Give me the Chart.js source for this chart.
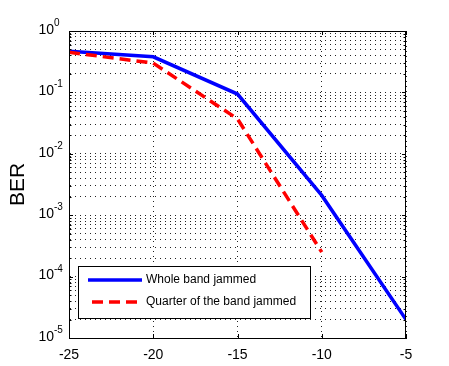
<!DOCTYPE html>
<html lang="en">
<head>
  <meta charset="UTF-8">
  <title>BER vs jamming</title>
  <script src="https://cdn.jsdelivr.net/npm/chart.js"></script>
  <style>
    html, body { margin: 0; padding: 0; background: #fff; }
    .chart-container { width: 449px; height: 366px; }
  </style>
</head>
<body>
  <div class="chart-container">
    <canvas id="berChart"></canvas>
  </div>
  <script>
    // data
    const snr = [-25, -20, -15, -10, -5];
    const wholeBand = [0.47, 0.38, 0.094, 0.0021, 0.00002];
    const quarterBand = [0.45, 0.30, 0.037, 0.00025, null];
    const seriesNames = ["Whole band jammed", "Quarter of the band jammed"];
    const xTicks = [-25, -20, -15, -10, -5];
    const yExponents = [0, -1, -2, -3, -4, -5];

    const FONT = "'Liberation Sans', Arial, sans-serif";

    // grid values 1..9 x 10^n for every decade
    const yGrid = [];
    for (let e = -5; e < 0; e++) {
      for (let s = 1; s <= 9; s++) yGrid.push(s * Math.pow(10, e));
    }
    yGrid.push(1);

    // box, inside tick marks, y labels with superscripts, legend
    const decorPlugin = {
      id: "decor",
      afterDraw(chart) {
        const ctx = chart.ctx;
        const a = chart.chartArea;
        const xs = chart.scales.x;
        const ys = chart.scales.y;
        ctx.save();
        ctx.strokeStyle = "#000";
        ctx.lineWidth = 1;
        ctx.strokeRect(a.left + 0.5, a.top + 0.5, a.right - a.left - 1, a.bottom - a.top);

        // inside ticks
        ctx.beginPath();
        xTicks.forEach(v => {
          const px = Math.round(xs.getPixelForValue(v)) + 0.5;
          ctx.moveTo(px, a.bottom); ctx.lineTo(px, a.bottom - 4);
          ctx.moveTo(px, a.top); ctx.lineTo(px, a.top + 4);
        });
        yGrid.forEach(v => {
          const py = Math.round(ys.getPixelForValue(v)) + 0.5;
          const major = Math.abs(Math.log10(v) - Math.round(Math.log10(v))) < 1e-9;
          const len = major ? 4 : 2.5;
          ctx.moveTo(a.left, py); ctx.lineTo(a.left + len, py);
          ctx.moveTo(a.right, py); ctx.lineTo(a.right - len, py);
        });
        ctx.stroke();

        // y tick labels 10^n
        ctx.fillStyle = "#000";
        yExponents.forEach(e => {
          const py = ys.getPixelForValue(Math.pow(10, e));
          ctx.font = "14px " + FONT;
          ctx.textAlign = "right";
          ctx.textBaseline = "middle";
          ctx.fillText("10", 54, py - 1);
          ctx.font = "10px " + FONT;
          ctx.textAlign = "left";
          ctx.textBaseline = "alphabetic";
          ctx.fillText(String(e), 54, py - 5);
        });

        // legend box
        const bx = a.left + 9, by = a.bottom - 72, bw = 232, bh = 52;
        ctx.fillStyle = "#fff";
        ctx.fillRect(bx, by, bw, bh);
        ctx.strokeStyle = "#000";
        ctx.lineWidth = 1;
        ctx.strokeRect(bx + 0.5, by + 0.5, bw, bh);
        chart.data.datasets.forEach((ds, i) => {
          const ly = by + 14 + i * 22;
          ctx.beginPath();
          ctx.strokeStyle = ds.borderColor;
          ctx.lineWidth = ds.borderWidth;
          ctx.setLineDash(ds.borderDash || []);
          ctx.moveTo(bx + (ds.borderDash ? 14 : 10), ly);
          ctx.lineTo(bx + 64, ly);
          ctx.stroke();
          ctx.setLineDash([]);
          ctx.fillStyle = "#000";
          ctx.font = "12px " + FONT;
          ctx.textAlign = "left";
          ctx.textBaseline = "middle";
          ctx.fillText(ds.label, bx + 68, ly);
        });
        ctx.restore();
      }
    };

    const ctx = document.getElementById("berChart").getContext("2d");
    new Chart(ctx, {
      type: "line",
      data: {
        labels: snr,
        datasets: [
          {
            label: seriesNames[0],
            data: snr.map((x, i) => ({ x: x, y: wholeBand[i] })),
            borderColor: "#0000ff",
            borderWidth: 3.5,
            pointRadius: 0,
            fill: false,
            tension: 0,
            order: 2
          },
          {
            label: seriesNames[1],
            data: snr.map((x, i) => ({ x: x, y: quarterBand[i] })),
            borderColor: "#ff0000",
            borderWidth: 3.5,
            borderDash: [11, 6],
            pointRadius: 0,
            fill: false,
            tension: 0,
            spanGaps: false,
            order: 1
          }
        ]
      },
      options: {
        responsive: true,
        maintainAspectRatio: false,
        animation: false,
        events: [],
        layout: { padding: { left: 0, top: 31, right: 43, bottom: 0 } },
        plugins: {
          legend: { display: false },
          tooltip: { enabled: false }
        },
        scales: {
          x: {
            type: "linear",
            min: -25,
            max: -5,
            afterBuildTicks: (scale) => { scale.ticks = xTicks.map(v => ({ value: v })); },
            afterFit: (scale) => { scale.height = 28; },
            grid: {
              color: "#222",
              lineWidth: 1,
              drawTicks: false
            },
            border: { display: true, color: "#000", width: 1, dash: [1, 4] },
            ticks: {
              color: "#000",
              padding: 9,
              font: { family: FONT, size: 14 },
              callback: (v) => String(v)
            }
          },
          y: {
            type: "logarithmic",
            min: 1e-5,
            max: 1,
            afterBuildTicks: (scale) => { scale.ticks = yGrid.map(v => ({ value: v })); },
            afterFit: (scale) => { scale.width = 69; },
            grid: {
              color: "#222",
              lineWidth: 1,
              drawTicks: false
            },
            border: { display: true, color: "#000", width: 1, dash: [1, 4] },
            ticks: { display: false },
            title: {
              display: true,
              text: "BER",
              color: "#000",
              padding: { top: 6, bottom: 0 },
              font: { family: FONT, size: 21 }
            }
          }
        }
      },
      plugins: [decorPlugin]
    });
  </script>
</body>
</html>
